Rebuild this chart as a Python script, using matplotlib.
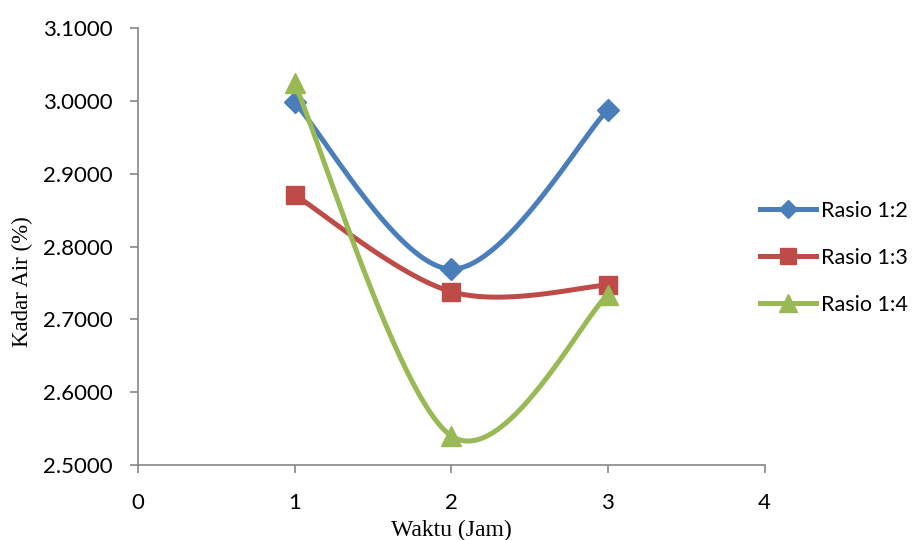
import numpy as np
import matplotlib.pyplot as plt

waktu = [1, 2, 3]
rasio_12 = [2.998, 2.769, 2.988]
rasio_13 = [2.871, 2.738, 2.747]
rasio_14 = [3.024, 2.540, 2.734]
labels = ["Rasio 1:2", "Rasio 1:3", "Rasio 1:4"]
colors = ["#4A7EBB", "#BE4B48", "#98B954"]
markers = ["D", "s", "^"]
msizes = [11, 13, 15]


def smooth(x, y, n=60):
    # Catmull-Rom style bezier, similar to Excel's smoothed line
    x = np.asarray(x, float)
    y = np.asarray(y, float)
    px = np.concatenate([[x[0]], x, [x[-1]]])
    py = np.concatenate([[y[0]], y, [y[-1]]])
    xs, ys = [], []
    t = np.linspace(0, 1, n)
    for i in range(1, len(px) - 2):
        p0 = np.array([px[i], py[i]])
        p3 = np.array([px[i + 1], py[i + 1]])
        p1 = p0 + (np.array([px[i + 1], py[i + 1]]) - np.array([px[i - 1], py[i - 1]])) / 6
        p2 = p3 - (np.array([px[i + 2], py[i + 2]]) - np.array([px[i], py[i]])) / 6
        b = ((1 - t) ** 3)[:, None] * p0 + (3 * (1 - t) ** 2 * t)[:, None] * p1 \
            + (3 * (1 - t) * t ** 2)[:, None] * p2 + (t ** 3)[:, None] * p3
        xs.extend(b[:, 0])
        ys.extend(b[:, 1])
    return xs, ys


fig = plt.figure(figsize=(9.19, 5.4), dpi=100)
ax = fig.add_axes([0.150, 0.139, 0.682, 0.809])

for vals, lab, c, m, ms in zip([rasio_12, rasio_13, rasio_14], labels, colors, markers, msizes):
    sx, sy = smooth(waktu, vals)
    ax.plot(sx, sy, color=c, lw=3.6, solid_capstyle="round")
    ax.plot(waktu, vals, ls="none", marker=m, ms=ms, color=c)
    ax.plot([], [], color=c, lw=3.6, marker=m, ms=ms * 0.85, label=lab)

ax.set_xlim(0, 4)
ax.set_ylim(2.5, 3.1)
ax.set_xticks([0, 1, 2, 3, 4])
ax.set_yticks(np.arange(2.5, 3.1001, 0.1))
ax.set_yticklabels([f"{v:.4f}" for v in np.arange(2.5, 3.1001, 0.1)])
for s in ["top", "right"]:
    ax.spines[s].set_visible(False)
for s in ["left", "bottom"]:
    ax.spines[s].set_color("#868686")
    ax.spines[s].set_linewidth(1.2)
ax.tick_params(colors="#868686", labelcolor="black", length=6, width=1.2, labelsize=16)
for t in ax.get_xticklabels() + ax.get_yticklabels():
    t.set_fontfamily("Lato")
ax.tick_params(axis="y", pad=12)
ax.tick_params(axis="x", pad=14)

ax.set_xlabel("Waktu (Jam)", fontfamily="Liberation Serif", fontsize=17, labelpad=5)
ax.set_ylabel("Kadar Air (%)", fontfamily="Liberation Serif", fontsize=16.5)
ax.yaxis.set_label_coords(-0.167, 0.419)

leg = ax.legend(loc="center left", bbox_to_anchor=(0.992, 0.474), frameon=False,
                prop={"family": "Lato", "size": 15.5}, handlelength=2.6,
                labelspacing=1.25, handletextpad=0.25, borderpad=0, borderaxespad=0)

fig.savefig("out.png", dpi=100)
